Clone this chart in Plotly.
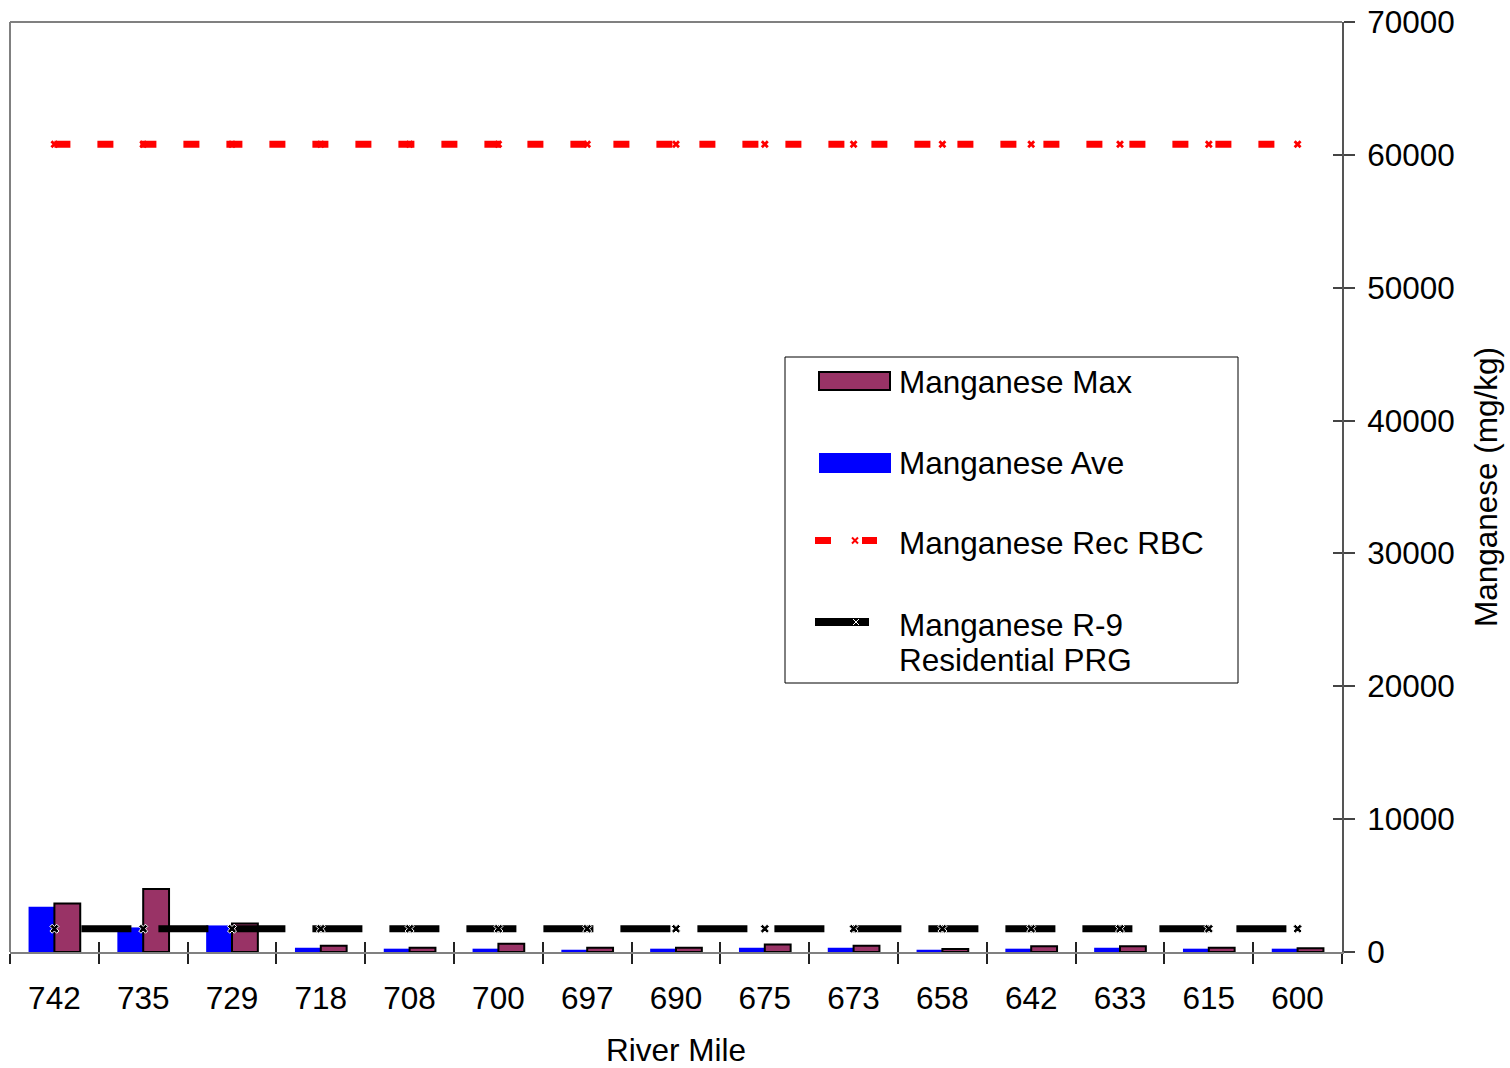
import plotly.graph_objects as go

# River mile stations (upstream to downstream)
river_miles = ["742", "735", "729", "718", "708", "700", "697", "690",
               "675", "673", "658", "642", "633", "615", "600"]

# Manganese concentrations in sediment (mg/kg)
mn_max = [3650, 4750, 2150, 470, 320, 620, 320, 320, 570, 470, 230, 430, 430, 320, 280]
mn_ave = [3400, 1850, 2000, 320, 250, 250, 170, 250, 320, 320, 170, 250, 320, 250, 250]

# Screening levels (mg/kg)
mn_rec_rbc = [60800, 60800, 60800, 60800, 60800, 60800, 60800, 60800,
              60800, 60800, 60800, 60800, 60800, 60800, 60800]
mn_r9_prg = [1750, 1750, 1750, 1750, 1750, 1750, 1750, 1750,
             1750, 1750, 1750, 1750, 1750, 1750, 1750]

y_ticks = [0, 10000, 20000, 30000, 40000, 50000, 60000, 70000]

FONT = "Liberation Sans, Arial, sans-serif"
FS = 31.5
MAROON = "#993366"
BLUE = "#0000FF"
RED = "#FF0000"

# plot area in pixels (for placing the hand-drawn key)
L, R, T, B = 10, 1342, 22, 952


def px(xp):
    return (xp - L) / (R - L)


def py(yp):
    return (B - yp) / (B - T)


fig = go.Figure()

fig.add_trace(go.Bar(x=river_miles, y=mn_ave, name="Manganese Ave",
                     marker=dict(color=BLUE, line=dict(width=0))))
fig.add_trace(go.Bar(x=river_miles, y=mn_max, name="Manganese Max",
                     marker=dict(color=MAROON, line=dict(color="black", width=2))))

fig.add_trace(go.Scatter(x=river_miles, y=mn_rec_rbc, name="Manganese Rec RBC",
                         mode="lines+markers",
                         line=dict(color=RED, width=7, dash="16px,27px"),
                         marker=dict(symbol="x", size=7, color=RED,
                                     line=dict(width=0))))
fig.add_trace(go.Scatter(x=river_miles, y=mn_r9_prg, name="Manganese R-9 Residential PRG",
                         mode="lines+markers",
                         line=dict(color="black", width=7, dash="0px,27px,50px,0px"),
                         marker=dict(symbol="x", size=8, color="black",
                                     line=dict(color="white", width=1))))

# invisible trace carrying the overlay axes that draw the inner half of each tick
fig.add_trace(go.Scatter(x=river_miles, y=mn_ave, xaxis="x2", yaxis="y2",
                         mode="markers", marker=dict(opacity=0),
                         hoverinfo="skip", showlegend=False))

fig.update_layout(
    width=1510, height=1068,
    margin=dict(l=L, r=1510 - R, t=T, b=1068 - B),
    paper_bgcolor="white", plot_bgcolor="white",
    barmode="group", bargap=0.418, bargroupgap=0,
    showlegend=False,
    font=dict(family=FONT, size=FS, color="black"),
    xaxis=dict(
        type="category", categoryorder="array", categoryarray=river_miles,
        range=[-0.5, 14.5], tickson="boundaries", automargin=False,
        ticks="outside", ticklen=10, tickwidth=1.5, tickcolor="#222",
        showline=True, linecolor="#808080", linewidth=2,
        showgrid=False, zeroline=False,
        tickfont=dict(family=FONT, size=FS), ticklabelstandoff=17,
        title=dict(text="River Mile", font=dict(family=FONT, size=FS), standoff=24),
    ),
    yaxis=dict(
        side="right", range=[0, 70000], tickvals=y_ticks, automargin=False,
        ticktext=[str(v) for v in y_ticks],
        ticks="outside", ticklen=11, tickwidth=1.5, tickcolor="#444",
        showline=True, linecolor="#555", linewidth=2,
        showgrid=False, zeroline=False,
        tickfont=dict(family=FONT, size=FS), ticklabelstandoff=6,
        title=dict(text="Manganese (mg/kg)", font=dict(family=FONT, size=FS), standoff=21),
    ),
    xaxis2=dict(
        overlaying="x", anchor="y2", type="category", categoryorder="array",
        categoryarray=river_miles, range=[-0.5, 14.5], tickson="boundaries",
        ticks="inside", ticklen=10, tickwidth=1.5, tickcolor="#222", automargin=False,
        showticklabels=False, showline=False, showgrid=False, zeroline=False,
    ),
    yaxis2=dict(
        overlaying="y", anchor="x2", side="right", range=[0, 70000], tickvals=y_ticks,
        ticks="inside", ticklen=9, tickwidth=1.5, tickcolor="#444", automargin=False,
        showticklabels=False, showline=False, showgrid=False, zeroline=False,
    ),
)

shapes = [
    # plot frame: left and top edges
    dict(type="line", xref="paper", yref="paper", x0=0, x1=0, y0=0, y1=1,
         line=dict(color="#808080", width=2)),
    dict(type="line", xref="paper", yref="paper", x0=0, x1=1, y0=1, y1=1,
         line=dict(color="#808080", width=2)),
    # key box
    dict(type="rect", xref="paper", yref="paper", x0=px(785), x1=px(1238),
         y0=py(683), y1=py(357), line=dict(color="black", width=1), fillcolor="white"),
    # key: max bar swatch
    dict(type="rect", xref="paper", yref="paper", x0=px(819), x1=px(890),
         y0=py(390), y1=py(372), line=dict(color="black", width=2), fillcolor=MAROON),
    # key: average bar swatch
    dict(type="rect", xref="paper", yref="paper", x0=px(819), x1=px(891),
         y0=py(473), y1=py(453), line=dict(width=0), fillcolor=BLUE),
    # key: RBC dashes
    dict(type="rect", xref="paper", yref="paper", x0=px(815), x1=px(831),
         y0=py(544), y1=py(537), line=dict(width=0), fillcolor=RED),
    dict(type="rect", xref="paper", yref="paper", x0=px(862), x1=px(877),
         y0=py(544), y1=py(537), line=dict(width=0), fillcolor=RED),
    dict(type="line", xref="paper", yref="paper", x0=px(852), x1=px(858),
         y0=py(543.5), y1=py(537.5), line=dict(color=RED, width=2)),
    dict(type="line", xref="paper", yref="paper", x0=px(852), x1=px(858),
         y0=py(537.5), y1=py(543.5), line=dict(color=RED, width=2)),
    # key: PRG line
    dict(type="rect", xref="paper", yref="paper", x0=px(815), x1=px(869),
         y0=py(626), y1=py(618), line=dict(width=0), fillcolor="black"),
    dict(type="line", xref="paper", yref="paper", x0=px(853), x1=px(859),
         y0=py(625), y1=py(619), line=dict(color="white", width=1)),
    dict(type="line", xref="paper", yref="paper", x0=px(853), x1=px(859),
         y0=py(619), y1=py(625), line=dict(color="white", width=1)),
]
fig.update_layout(shapes=shapes)

key_text = [("Manganese Max", 382), ("Manganese Ave", 463),
            ("Manganese Rec RBC", 543), ("Manganese R-9", 625),
            ("Residential PRG", 660)]
for txt, yc in key_text:
    fig.add_annotation(text=txt, xref="paper", yref="paper", x=px(897), y=py(yc),
                       xanchor="left", yanchor="middle", showarrow=False,
                       font=dict(family=FONT, size=FS, color="black"))

fig.write_html("out.html")
